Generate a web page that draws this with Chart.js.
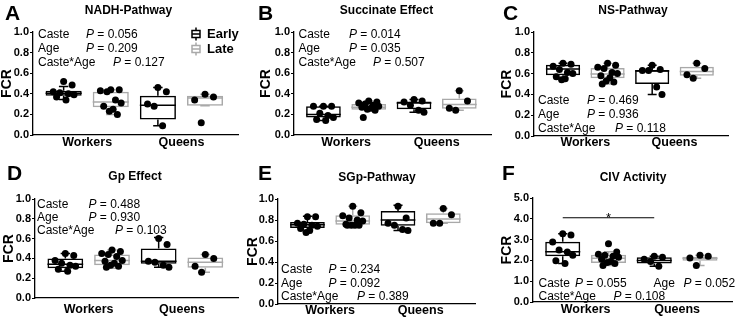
<!DOCTYPE html>
<html><head><meta charset="utf-8">
<script src="https://cdn.jsdelivr.net/npm/chart.js@4.4.1/dist/chart.umd.min.js"></script>
<style>
html,body{margin:0;padding:0;background:#fff}
#wrap{position:relative;width:736px;height:317px;overflow:hidden;background:#fff}
#wrap canvas{position:absolute;left:0;top:0}
</style></head><body><div id="wrap">
<canvas id="cA" width="736" height="317"></canvas>
<canvas id="cB" width="736" height="317"></canvas>
<canvas id="cC" width="736" height="317"></canvas>
<canvas id="cD" width="736" height="317"></canvas>
<canvas id="cE" width="736" height="317"></canvas>
<canvas id="cF" width="736" height="317"></canvas>
</div>
<script>
// ================= DATA =================
const casteLabels = ['Workers', 'Queens'];
const ageLabels = ['Early', 'Late'];
// Box order in every panel: Workers-Early, Workers-Late, Queens-Early, Queens-Late
// Box stats: [lower whisker, Q1, median, Q3, upper whisker]

// A: NADH-Pathway
const nadhBoxes = [[0.345,0.38,0.405,0.43,0.47],[0.20,0.27,0.32,0.42,0.44],[0.09,0.15,0.29,0.38,0.46],[0.285,0.285,0.36,0.38,0.395]];
const nadhPoints = [[0.52,0.485,0.42,0.41,0.40,0.39,0.37,0.34],[0.44,0.44,0.43,0.42,0.34,0.31,0.28,0.25,0.23,0.20],[0.46,0.42,0.30,0.28,0.09],[0.395,0.37,0.34,0.12]];
const nadhStats = [['Caste','0.056'],['Age','0.209'],['Caste*Age','0.127']];

// B: Succinate Effect
const succBoxes = [[0.14,0.17,0.20,0.28,0.28],[0.24,0.245,0.27,0.30,0.33],[0.22,0.25,0.31,0.325,0.345],[0.24,0.255,0.295,0.355,0.43]];
const succPoints = [[0.28,0.28,0.28,0.21,0.19,0.17,0.15,0.14],[0.33,0.32,0.31,0.30,0.29,0.28,0.27,0.26,0.25,0.24,0.17],[0.345,0.33,0.32,0.29,0.24,0.22],[0.43,0.33,0.26,0.24]];
const succStats = [['Caste','0.014'],['Age','0.035'],['Caste*Age','0.507']];

// C: NS-Pathway
const nsBoxes = [[0.54,0.585,0.645,0.685,0.70],[0.50,0.555,0.595,0.655,0.70],[0.40,0.50,0.625,0.635,0.68],[0.555,0.58,0.62,0.665,0.70]];
const nsPoints = [[0.70,0.69,0.67,0.64,0.61,0.60,0.57,0.55,0.54],[0.70,0.68,0.66,0.65,0.61,0.60,0.58,0.56,0.53,0.52,0.50],[0.68,0.64,0.63,0.63,0.47,0.40],[0.70,0.65,0.59,0.555]];
const nsStats = [['Caste','0.469'],['Age','0.936'],['Caste*Age','0.118']];

// D: Gp Effect
const gpBoxes = [[0.27,0.30,0.34,0.40,0.45],[0.30,0.33,0.38,0.44,0.485],[0.31,0.345,0.37,0.50,0.61],[0.26,0.305,0.36,0.41,0.44]];
const gpPoints = [[0.45,0.43,0.38,0.35,0.33,0.32,0.29,0.27],[0.485,0.47,0.45,0.44,0.42,0.38,0.37,0.35,0.33,0.32,0.31],[0.60,0.54,0.37,0.36,0.33,0.31],[0.44,0.40,0.32,0.26]];
const gpStats = [['Caste','0.488'],['Age','0.930'],['Caste*Age','0.103']];

// E: SGp-Pathway
const sgpBoxes = [[0.68,0.725,0.755,0.78,0.835],[0.75,0.755,0.79,0.845,0.93],[0.70,0.745,0.80,0.885,0.94],[0.77,0.77,0.81,0.865,0.91]];
const sgpPoints = [[0.83,0.83,0.77,0.76,0.75,0.74,0.72,0.70,0.68],[0.93,0.87,0.84,0.82,0.80,0.79,0.76,0.75,0.75,0.75,0.75],[0.93,0.82,0.77,0.75,0.71,0.70],[0.91,0.85,0.77,0.77]];
const sgpStats = [['Caste','0.234'],['Age','0.092'],['Caste*Age','0.389']];

// F: CIV Activity
const civBoxes = [[1.85,2.2,2.42,2.9,3.28],[1.75,1.88,2.1,2.27,2.42],[1.72,1.85,2.0,2.15,2.2],[1.75,1.98,2.1,2.18,2.25]];
const civPoints = [[3.28,3.22,2.88,2.50,2.40,2.25,1.98,1.85],[2.8,2.4,2.3,2.25,2.2,2.15,2.05,1.95,1.9,1.85,1.75],[2.2,2.15,2.05,1.95,1.72],[2.25,2.2,2.12,1.75]];
const civStats = [['Caste','0.055'],['Age','0.052'],['Caste*Age','0.108']];
const civSignif = {from: 1, to: 3, value: 4.05, label: '*'};

// ================= STYLE / LAYOUT =================
const FONT = "'Liberation Sans', Arial, Helvetica, sans-serif";
const BLACK = '#000000', GRAY = '#a9a9a9';
const BOX_HALF = 0.383, CAP_HALF = 0.1;
const JITTER = [0.0, 0.18, -0.22, -0.08, 0.1, 0.22, -0.15, 0.05, -0.03, 0.14, -0.12];
const W = 736, H = 317, Y_AXIS_W = 28, X_AXIS_H = 20;

const panels = [
  {id:'cA', letter:'A', title:'NADH-Pathway', boxes:nadhBoxes, points:nadhPoints, stats:nadhStats,
   area:{l:33,r:238,t:32,b:135}, yMax:1, yStep:0.2, xPad:0, letterPos:[5,20], titlePos:[128.5,11], fcrX:7.5,
   statPos:[[38,35,86],[38,49,86],[38,63,113]], legend:{x:192, y:[34,49]}},
  {id:'cB', letter:'B', title:'Succinate Effect', boxes:succBoxes, points:succPoints, stats:succStats,
   area:{l:294,r:491,t:32,b:135}, yMax:1, yStep:0.2, xPad:0, letterPos:[258,20], titlePos:[386.5,11], fcrX:266,
   statPos:[[298.5,35,349],[298.5,49,349],[298.5,63,373]]},
  {id:'cC', letter:'C', title:'NS-Pathway', boxes:nsBoxes, points:nsPoints, stats:nsStats,
   area:{l:534,r:728,t:32,b:136}, yMax:1, yStep:0.2, xPad:-1, letterPos:[503,20], titlePos:[633,11], fcrX:507.5,
   statPos:[[538,101,587],[538,115,587],[538,128.5,615]]},
  {id:'cD', letter:'D', title:'Gp Effect', boxes:gpBoxes, points:gpPoints, stats:gpStats,
   area:{l:35,r:238,t:199,b:298}, yMax:1, yStep:0.2, xPad:4, letterPos:[7,180], titlePos:[135,177], fcrX:9,
   statPos:[[37,204.5,88.5],[37,218,88.5],[37,231,115]]},
  {id:'cE', letter:'E', title:'SGp-Pathway', boxes:sgpBoxes, points:sgpPoints, stats:sgpStats,
   area:{l:278,r:475,t:199,b:304}, yMax:1, yStep:0.2, xPad:-1, letterPos:[258,180], titlePos:[377,178], fcrX:253,
   statPos:[[281,270,328.5],[281,283.5,328.5],[281,297,357]]},
  {id:'cF', letter:'F', title:'CIV Activity', boxes:civBoxes, points:civPoints, stats:civStats,
   area:{l:533,r:732,t:198,b:302}, yMax:5, yStep:1, xPad:0, letterPos:[502,180], titlePos:[633,178], fcrX:507.5,
   statPos:[[538.5,283.5,575],[653.5,283.5,683.5],[538.5,297,613.5]], signif:civSignif}
];

function legendGlyph(ctx, x, y, color) {
  ctx.strokeStyle = color; ctx.lineWidth = 1.5;
  ctx.strokeRect(x, y - 3.5, 8, 7);
  ctx.beginPath();
  ctx.moveTo(x, y); ctx.lineTo(x + 8, y);
  ctx.moveTo(x + 4, y - 3.5); ctx.lineTo(x + 4, y - 6.5);
  ctx.moveTo(x + 4, y + 3.5); ctx.lineTo(x + 4, y + 6.5);
  ctx.stroke();
}

const overlay = {
  id: 'overlay',
  afterDraw(chart, args, opts) {
    const P = opts.panel, ctx = chart.ctx, ca = chart.chartArea;
    ctx.save();
    ctx.fillStyle = '#000';
    ctx.textAlign = 'left'; ctx.textBaseline = 'alphabetic';
    ctx.font = `bold 21px ${FONT}`;
    ctx.fillText(P.letter, P.letterPos[0], P.letterPos[1]);
    ctx.textAlign = 'center'; ctx.textBaseline = 'middle';
    ctx.font = `bold 12px ${FONT}`;
    ctx.fillText(P.title, P.titlePos[0], P.titlePos[1]);
    ctx.save();
    ctx.translate(P.fcrX, (ca.top + ca.bottom) / 2);
    ctx.rotate(-Math.PI / 2);
    ctx.font = `bold 14px ${FONT}`;
    ctx.fillText('FCR', 0, 0);
    ctx.restore();
    // statistics
    ctx.textAlign = 'left'; ctx.textBaseline = 'middle';
    P.stats.forEach((s, i) => {
      const [x, y, px] = P.statPos[i];
      ctx.font = `12px ${FONT}`;
      ctx.fillText(s[0], x, y);
      ctx.font = `italic 12px ${FONT}`;
      ctx.fillText('P', px, y);
      const pw = ctx.measureText('P').width;
      ctx.font = `12px ${FONT}`;
      ctx.fillText(' = ' + s[1], px + pw, y);
    });
    if (P.legend) {
      [BLACK, GRAY].forEach((c, i) => {
        const y = P.legend.y[i];
        legendGlyph(ctx, P.legend.x, y, c);
        ctx.fillStyle = '#000';
        ctx.font = `bold 13px ${FONT}`;
        ctx.textBaseline = 'middle';
        ctx.fillText(ageLabels[i], P.legend.x + 15, y + 0.5);
      });
    }
    if (P.signif) {
      const xs = chart.scales.x, ys = chart.scales.y;
      const cx = xs.getPixelForValue((P.signif.from + P.signif.to) / 2);
      const cy = ys.getPixelForValue(P.signif.value);
      ctx.textAlign = 'center'; ctx.textBaseline = 'alphabetic';
      ctx.font = `13px ${FONT}`;
      ctx.fillText(P.signif.label, cx, cy + 4);
    }
    ctx.restore();
  }
};

function buildPanel(P) {
  const colors = [BLACK, GRAY, BLACK, GRAY];
  const barData = P.boxes.map((b, i) => ({x: i + 1, y: [b[1], b[3]]}));
  const lineSets = [[], []];
  P.boxes.forEach((b, i) => {
    const x = i + 1, L = lineSets[i % 2];
    const [lo, q1, med, q3, hi] = b;
    const gap = {x: x, y: null};
    L.push({x, y: lo}, {x, y: q1}, gap);
    L.push({x, y: q3}, {x, y: hi}, gap);
    L.push({x: x - CAP_HALF, y: hi}, {x: x + CAP_HALF, y: hi}, gap);
    L.push({x: x - CAP_HALF, y: lo}, {x: x + CAP_HALF, y: lo}, gap);
    L.push({x: x - BOX_HALF, y: med}, {x: x + BOX_HALF, y: med}, gap);
  });
  const pts = [];
  P.points.forEach((arr, i) => arr.forEach((v, j) => pts.push({x: i + 1 + JITTER[j % JITTER.length], y: v})));

  const datasets = [
    {type: 'scatter', data: pts, order: 0, pointRadius: 3.5, pointBackgroundColor: '#000',
     pointBorderColor: '#000', pointBorderWidth: 0, showLine: false},
    {type: 'line', data: lineSets[0], order: 1, borderColor: BLACK, borderWidth: 1.5,
     pointRadius: 0, fill: false, spanGaps: false, tension: 0},
    {type: 'line', data: lineSets[1], order: 1, borderColor: GRAY, borderWidth: 1.5,
     pointRadius: 0, fill: false, spanGaps: false, tension: 0},
    {type: 'bar', data: barData, order: 2, borderColor: colors, backgroundColor: 'rgba(255,255,255,0)',
     borderWidth: 1.5, borderSkipped: false, categoryPercentage: 1, barPercentage: BOX_HALF * 2}
  ];
  if (P.signif) {
    datasets.push({type: 'line', data: [{x: P.signif.from, y: P.signif.value}, {x: P.signif.to, y: P.signif.value}],
      order: 1, borderColor: BLACK, borderWidth: 1, pointRadius: 0, fill: false});
  }
  const a = P.area;
  new Chart(document.getElementById(P.id), {
    type: 'bar',
    data: {datasets},
    options: {
      responsive: false, animation: false, devicePixelRatio: 1, events: [],
      layout: {padding: {left: a.l - Y_AXIS_W, top: a.t, right: W - a.r, bottom: H - a.b - X_AXIS_H}},
      plugins: {legend: {display: false}, tooltip: {enabled: false}, overlay: {panel: P}},
      scales: {
        x: {type: 'linear', min: 0.35, max: 4.7, offset: false,
            afterBuildTicks: s => { s.ticks = [{value: 1.5}, {value: 3.5}]; },
            afterFit: s => { s.height = X_AXIS_H; },
            ticks: {callback: v => (v < 2.5 ? casteLabels[0] : casteLabels[1]), color: '#000',
                    font: {family: FONT, size: 12.5, weight: 'bold'}, padding: P.xPad, maxRotation: 0, autoSkip: false},
            grid: {display: false, drawTicks: false, offset: false},
            border: {display: true, color: '#000', width: 1.3}},
        y: {type: 'linear', min: 0, max: P.yMax,
            afterFit: s => { s.width = Y_AXIS_W; },
            ticks: {stepSize: P.yStep, callback: v => Number(v).toFixed(1), color: '#000',
                    font: {family: FONT, size: 11, weight: 'bold'}, padding: 1},
            grid: {display: true, drawOnChartArea: false, drawTicks: true, tickLength: 3, color: '#000', lineWidth: 1},
            border: {display: true, color: '#000', width: 1.3}}
      }
    },
    plugins: [overlay]
  });
}
panels.forEach(buildPanel);
</script>
</body></html>
